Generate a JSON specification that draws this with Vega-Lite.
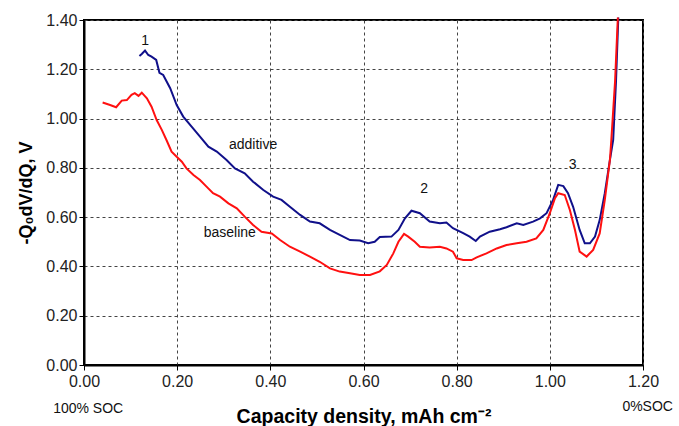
{
  "$schema": "https://vega.github.io/schema/vega-lite/v6.json",
  "autosize": "none",
  "width": 559,
  "height": 345,
  "padding": {"left": 84, "top": 20, "right": 36, "bottom": 61},
  "background": "white",
  "config": {
    "view": {"stroke": "black", "strokeWidth": 2},
    "font": "Liberation Sans"
  },
  "datasets": {
    "curves": [
      {"s": "additive", "x": 0.119, "y": 1.254},
      {"s": "additive", "x": 0.124, "y": 1.262},
      {"s": "additive", "x": 0.131, "y": 1.276},
      {"s": "additive", "x": 0.138, "y": 1.258},
      {"s": "additive", "x": 0.145, "y": 1.251},
      {"s": "additive", "x": 0.155, "y": 1.238},
      {"s": "additive", "x": 0.162, "y": 1.186},
      {"s": "additive", "x": 0.170, "y": 1.177},
      {"s": "additive", "x": 0.185, "y": 1.123},
      {"s": "additive", "x": 0.199, "y": 1.055},
      {"s": "additive", "x": 0.213, "y": 1.008},
      {"s": "additive", "x": 0.231, "y": 0.967},
      {"s": "additive", "x": 0.249, "y": 0.927},
      {"s": "additive", "x": 0.267, "y": 0.886},
      {"s": "additive", "x": 0.285, "y": 0.866},
      {"s": "additive", "x": 0.306, "y": 0.832},
      {"s": "additive", "x": 0.324, "y": 0.798},
      {"s": "additive", "x": 0.345, "y": 0.778},
      {"s": "additive", "x": 0.363, "y": 0.744},
      {"s": "additive", "x": 0.385, "y": 0.710},
      {"s": "additive", "x": 0.406, "y": 0.683},
      {"s": "additive", "x": 0.424, "y": 0.670},
      {"s": "additive", "x": 0.442, "y": 0.642},
      {"s": "additive", "x": 0.464, "y": 0.609},
      {"s": "additive", "x": 0.485, "y": 0.582},
      {"s": "additive", "x": 0.506, "y": 0.575},
      {"s": "additive", "x": 0.528, "y": 0.548},
      {"s": "additive", "x": 0.549, "y": 0.528},
      {"s": "additive", "x": 0.571, "y": 0.507},
      {"s": "additive", "x": 0.592, "y": 0.505},
      {"s": "additive", "x": 0.610, "y": 0.494},
      {"s": "additive", "x": 0.624, "y": 0.500},
      {"s": "additive", "x": 0.635, "y": 0.519},
      {"s": "additive", "x": 0.660, "y": 0.521},
      {"s": "additive", "x": 0.675, "y": 0.548},
      {"s": "additive", "x": 0.689, "y": 0.595},
      {"s": "additive", "x": 0.703, "y": 0.626},
      {"s": "additive", "x": 0.721, "y": 0.616},
      {"s": "additive", "x": 0.742, "y": 0.582},
      {"s": "additive", "x": 0.764, "y": 0.575},
      {"s": "additive", "x": 0.778, "y": 0.578},
      {"s": "additive", "x": 0.792, "y": 0.555},
      {"s": "additive", "x": 0.814, "y": 0.535},
      {"s": "additive", "x": 0.828, "y": 0.521},
      {"s": "additive", "x": 0.841, "y": 0.503},
      {"s": "additive", "x": 0.850, "y": 0.521},
      {"s": "additive", "x": 0.871, "y": 0.541},
      {"s": "additive", "x": 0.893, "y": 0.551},
      {"s": "additive", "x": 0.907, "y": 0.559},
      {"s": "additive", "x": 0.929, "y": 0.575},
      {"s": "additive", "x": 0.943, "y": 0.568},
      {"s": "additive", "x": 0.964, "y": 0.582},
      {"s": "additive", "x": 0.979, "y": 0.595},
      {"s": "additive", "x": 0.993, "y": 0.616},
      {"s": "additive", "x": 1.007, "y": 0.670},
      {"s": "additive", "x": 1.018, "y": 0.731},
      {"s": "additive", "x": 1.029, "y": 0.726},
      {"s": "additive", "x": 1.039, "y": 0.697},
      {"s": "additive", "x": 1.050, "y": 0.642},
      {"s": "additive", "x": 1.064, "y": 0.548},
      {"s": "additive", "x": 1.075, "y": 0.494},
      {"s": "additive", "x": 1.086, "y": 0.494},
      {"s": "additive", "x": 1.097, "y": 0.521},
      {"s": "additive", "x": 1.107, "y": 0.588},
      {"s": "additive", "x": 1.118, "y": 0.697},
      {"s": "additive", "x": 1.129, "y": 0.832},
      {"s": "additive", "x": 1.136, "y": 0.913},
      {"s": "additive", "x": 1.142, "y": 1.15},
      {"s": "additive", "x": 1.147, "y": 1.41},
      {"s": "baseline", "x": 0.040, "y": 1.065},
      {"s": "baseline", "x": 0.056, "y": 1.055},
      {"s": "baseline", "x": 0.069, "y": 1.046},
      {"s": "baseline", "x": 0.081, "y": 1.073},
      {"s": "baseline", "x": 0.092, "y": 1.075},
      {"s": "baseline", "x": 0.102, "y": 1.096},
      {"s": "baseline", "x": 0.109, "y": 1.103},
      {"s": "baseline", "x": 0.117, "y": 1.092},
      {"s": "baseline", "x": 0.124, "y": 1.105},
      {"s": "baseline", "x": 0.135, "y": 1.082},
      {"s": "baseline", "x": 0.145, "y": 1.048},
      {"s": "baseline", "x": 0.156, "y": 0.994},
      {"s": "baseline", "x": 0.167, "y": 0.954},
      {"s": "baseline", "x": 0.177, "y": 0.913},
      {"s": "baseline", "x": 0.188, "y": 0.866},
      {"s": "baseline", "x": 0.199, "y": 0.845},
      {"s": "baseline", "x": 0.210, "y": 0.825},
      {"s": "baseline", "x": 0.220, "y": 0.798},
      {"s": "baseline", "x": 0.235, "y": 0.771},
      {"s": "baseline", "x": 0.249, "y": 0.751},
      {"s": "baseline", "x": 0.263, "y": 0.724},
      {"s": "baseline", "x": 0.277, "y": 0.697},
      {"s": "baseline", "x": 0.292, "y": 0.683},
      {"s": "baseline", "x": 0.310, "y": 0.656},
      {"s": "baseline", "x": 0.328, "y": 0.636},
      {"s": "baseline", "x": 0.345, "y": 0.602},
      {"s": "baseline", "x": 0.363, "y": 0.568},
      {"s": "baseline", "x": 0.381, "y": 0.541},
      {"s": "baseline", "x": 0.403, "y": 0.534},
      {"s": "baseline", "x": 0.421, "y": 0.507},
      {"s": "baseline", "x": 0.442, "y": 0.480},
      {"s": "baseline", "x": 0.464, "y": 0.460},
      {"s": "baseline", "x": 0.485, "y": 0.440},
      {"s": "baseline", "x": 0.506, "y": 0.419},
      {"s": "baseline", "x": 0.528, "y": 0.392},
      {"s": "baseline", "x": 0.549, "y": 0.379},
      {"s": "baseline", "x": 0.571, "y": 0.372},
      {"s": "baseline", "x": 0.592, "y": 0.365},
      {"s": "baseline", "x": 0.614, "y": 0.365},
      {"s": "baseline", "x": 0.635, "y": 0.380},
      {"s": "baseline", "x": 0.650, "y": 0.406},
      {"s": "baseline", "x": 0.664, "y": 0.453},
      {"s": "baseline", "x": 0.675, "y": 0.500},
      {"s": "baseline", "x": 0.687, "y": 0.532},
      {"s": "baseline", "x": 0.696, "y": 0.521},
      {"s": "baseline", "x": 0.710, "y": 0.500},
      {"s": "baseline", "x": 0.721, "y": 0.480},
      {"s": "baseline", "x": 0.742, "y": 0.477},
      {"s": "baseline", "x": 0.764, "y": 0.480},
      {"s": "baseline", "x": 0.778, "y": 0.473},
      {"s": "baseline", "x": 0.792, "y": 0.460},
      {"s": "baseline", "x": 0.800, "y": 0.433},
      {"s": "baseline", "x": 0.814, "y": 0.426},
      {"s": "baseline", "x": 0.832, "y": 0.426},
      {"s": "baseline", "x": 0.843, "y": 0.437},
      {"s": "baseline", "x": 0.864, "y": 0.453},
      {"s": "baseline", "x": 0.886, "y": 0.473},
      {"s": "baseline", "x": 0.907, "y": 0.487},
      {"s": "baseline", "x": 0.929, "y": 0.494},
      {"s": "baseline", "x": 0.950, "y": 0.500},
      {"s": "baseline", "x": 0.971, "y": 0.514},
      {"s": "baseline", "x": 0.986, "y": 0.548},
      {"s": "baseline", "x": 1.000, "y": 0.616},
      {"s": "baseline", "x": 1.011, "y": 0.677},
      {"s": "baseline", "x": 1.018, "y": 0.697},
      {"s": "baseline", "x": 1.032, "y": 0.690},
      {"s": "baseline", "x": 1.043, "y": 0.629},
      {"s": "baseline", "x": 1.054, "y": 0.548},
      {"s": "baseline", "x": 1.064, "y": 0.460},
      {"s": "baseline", "x": 1.079, "y": 0.440},
      {"s": "baseline", "x": 1.093, "y": 0.467},
      {"s": "baseline", "x": 1.107, "y": 0.534},
      {"s": "baseline", "x": 1.118, "y": 0.670},
      {"s": "baseline", "x": 1.129, "y": 0.832},
      {"s": "baseline", "x": 1.132, "y": 0.913},
      {"s": "baseline", "x": 1.140, "y": 1.15},
      {"s": "baseline", "x": 1.146, "y": 1.41}
    ],
    "labels": [
      {"t": "1", "x": 0.131, "y": 1.315},
      {"t": "additive", "x": 0.363, "y": 0.893},
      {"t": "2", "x": 0.730, "y": 0.714},
      {"t": "3", "x": 1.049, "y": 0.810},
      {"t": "baseline", "x": 0.313, "y": 0.536},
      {"t": "100% SOC", "x": 0.009, "y": -0.179},
      {"t": "0%SOC", "x": 1.21, "y": -0.170}
    ]
  },
  "layer": [
    {
      "data": {"name": "curves"},
      "mark": {"type": "line", "strokeWidth": 2, "clip": false},
      "encoding": {
        "x": {
          "field": "x", "type": "quantitative",
          "scale": {"domain": [0, 1.2], "nice": false},
          "axis": {
            "values": [0, 0.2, 0.4, 0.6, 0.8, 1.0, 1.2],
            "format": ".2f",
            "title": "Capacity density, mAh cm⁻²",
            "titleFont": "Liberation Sans",
            "titleFontSize": 19.5,
            "titleFontWeight": "bold",
            "titleColor": "black",
            "titlePadding": 18,
            "labelFont": "Liberation Sans",
            "labelFontSize": 16,
            "labelColor": "#222",
            "labelPadding": 3,
            "labelFlush": false,
            "domainColor": "black",
            "domainWidth": 2,
            "tickColor": "black",
            "tickSize": 5,
            "grid": true,
            "gridColor": "#444",
            "gridDash": [3, 3],
            "gridWidth": 1
          }
        },
        "y": {
          "field": "y", "type": "quantitative",
          "scale": {"domain": [0, 1.4], "nice": false},
          "axis": {
            "values": [0, 0.2, 0.4, 0.6, 0.8, 1.0, 1.2, 1.4],
            "format": ".2f",
            "title": "-Q₀dV/dQ, V",
            "titleFont": "Liberation Sans",
            "titleFontSize": 18,
            "titleFontWeight": "bold",
            "titleColor": "black",
            "titlePadding": 10,
            "labelFont": "Liberation Sans",
            "labelFontSize": 16,
            "labelColor": "#222",
            "labelPadding": 2,
            "labelFlush": false,
            "domainColor": "black",
            "domainWidth": 2,
            "tickColor": "black",
            "tickSize": 5,
            "grid": true,
            "gridColor": "#444",
            "gridDash": [3, 3],
            "gridWidth": 1
          }
        },
        "color": {
          "field": "s", "type": "nominal",
          "scale": {"domain": ["additive", "baseline"], "range": ["#10108a", "#ff1010"]},
          "legend": null
        },
        "order": {"field": "x", "type": "quantitative"}
      }
    },
    {
      "data": {"name": "labels"},
      "mark": {"type": "text", "font": "Liberation Sans", "fontSize": 14, "color": "#111", "clip": false},
      "encoding": {
        "x": {"field": "x", "type": "quantitative"},
        "y": {"field": "y", "type": "quantitative"},
        "text": {"field": "t"}
      }
    }
  ]
}
